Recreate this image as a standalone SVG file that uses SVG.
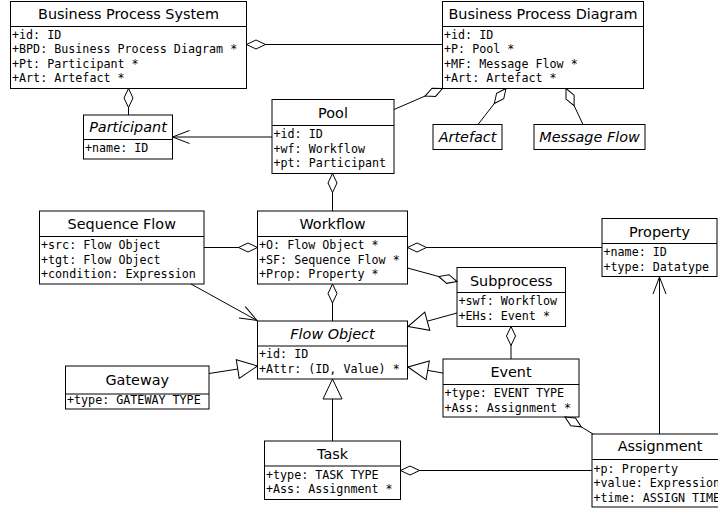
<svg xmlns="http://www.w3.org/2000/svg" width="718" height="510" viewBox="0 0 718 510">
<style>
.box{fill:#fff;stroke:#000;stroke-width:1}
.sep{stroke:#000;stroke-width:1}
.t{font-family:"DejaVu Sans","Liberation Sans",sans-serif;font-size:14.4px;text-anchor:middle;fill:#000}
.ti{font-family:"DejaVu Sans","Liberation Sans",sans-serif;font-size:14.4px;text-anchor:middle;font-style:italic;fill:#000}
.a{font-family:"DejaVu Sans Mono","Liberation Mono",monospace;font-size:11.7px;fill:#000}
.c{fill:none;stroke:#000;stroke-width:1}
.agg{marker-start:url(#dia)}
.gen{marker-end:url(#tri)}
.nav{marker-end:url(#arr)}
</style>
<defs>
<marker id="dia" viewBox="-1 -6 22 12" refX="0" refY="0" markerWidth="22" markerHeight="12" markerUnits="userSpaceOnUse" orient="auto"><path d="M0,0 L9.5,-4.5 L19,0 L9.5,4.5 Z" fill="#fff" stroke="#000" stroke-width="1"/></marker>
<marker id="tri" viewBox="-22 -11 23 22" refX="0" refY="0" markerWidth="23" markerHeight="22" markerUnits="userSpaceOnUse" orient="auto"><path d="M0,0 L-20,-9.5 L-20,9.5 Z" fill="#fff" stroke="#000" stroke-width="1"/></marker>
<marker id="arr" viewBox="-19 -8 20 16" refX="0" refY="0" markerWidth="20" markerHeight="16" markerUnits="userSpaceOnUse" orient="auto"><path d="M-17,-6.5 L0,0 L-17,6.5" fill="none" stroke="#000" stroke-width="1"/></marker>
</defs>
<rect width="718" height="510" fill="#fff"/>

<g id="bps">
<rect class="box" x="10.5" y="1.5" width="236" height="87"/>
<line class="sep" x1="10.5" y1="26.5" x2="246.5" y2="26.5"/>
<text class="t" x="128.5" y="19">Business Process System</text>
<text class="a" x="12" y="38.5">+id: ID</text>
<text class="a" x="12" y="53">+BPD: Business Process Diagram *</text>
<text class="a" x="12" y="67.5">+Pt: Participant *</text>
<text class="a" x="12" y="82">+Art: Artefact *</text>
</g>

<g id="bpd">
<rect class="box" x="442.5" y="1.5" width="201" height="87"/>
<line class="sep" x1="442.5" y1="26.5" x2="643.5" y2="26.5"/>
<text class="t" x="543" y="19">Business Process Diagram</text>
<text class="a" x="444" y="38.5">+id: ID</text>
<text class="a" x="444" y="53">+P: Pool *</text>
<text class="a" x="444" y="67.5">+MF: Message Flow *</text>
<text class="a" x="444" y="82">+Art: Artefact *</text>
</g>

<g id="participant">
<rect class="box" x="83.5" y="115" width="89" height="44"/>
<line class="sep" x1="83.5" y1="139.5" x2="172.5" y2="139.5"/>
<text class="ti" x="128" y="132">Participant</text>
<text class="a" x="85" y="151.5">+name: ID</text>
</g>

<g id="artefact">
<rect class="box" x="433" y="124.5" width="69" height="25"/>
<text class="ti" x="467.5" y="142">Artefact</text>
</g>

<g id="messageflow">
<rect class="box" x="534" y="124.5" width="111" height="25"/>
<text class="ti" x="589.5" y="142">Message Flow</text>
</g>

<g id="pool">
<rect class="box" x="272" y="99.5" width="122" height="74"/>
<line class="sep" x1="272" y1="125.5" x2="394" y2="125.5"/>
<text class="t" x="333" y="117.5">Pool</text>
<text class="a" x="273.5" y="138">+id: ID</text>
<text class="a" x="273.5" y="152.5">+wf: Workflow</text>
<text class="a" x="273.5" y="167">+pt: Participant</text>
</g>

<g id="sequenceflow">
<rect class="box" x="39.5" y="211" width="164.5" height="73"/>
<line class="sep" x1="39.5" y1="236.5" x2="204" y2="236.5"/>
<text class="t" x="121.75" y="229">Sequence Flow</text>
<text class="a" x="41" y="249">+src: Flow Object</text>
<text class="a" x="41" y="263.5">+tgt: Flow Object</text>
<text class="a" x="41" y="278">+condition: Expression</text>
</g>

<g id="workflow">
<rect class="box" x="257.5" y="211" width="150" height="73"/>
<line class="sep" x1="257.5" y1="236.5" x2="407.5" y2="236.5"/>
<text class="t" x="332.5" y="229">Workflow</text>
<text class="a" x="259" y="249">+O: Flow Object *</text>
<text class="a" x="259" y="263.5">+SF: Sequence Flow *</text>
<text class="a" x="259" y="278">+Prop: Property *</text>
</g>

<g id="property">
<rect class="box" x="602" y="218.5" width="115" height="58"/>
<line class="sep" x1="602" y1="243.5" x2="717" y2="243.5"/>
<text class="t" x="659.5" y="236.5">Property</text>
<text class="a" x="603.5" y="256">+name: ID</text>
<text class="a" x="603.5" y="270.5">+type: Datatype</text>
</g>

<g id="subprocess">
<rect class="box" x="457" y="267.5" width="108.5" height="59"/>
<line class="sep" x1="457" y1="292.5" x2="565.5" y2="292.5"/>
<text class="t" x="511.25" y="285.5">Subprocess</text>
<text class="a" x="458.5" y="305">+swf: Workflow</text>
<text class="a" x="458.5" y="319.5">+EHs: Event *</text>
</g>

<g id="flowobject">
<rect class="box" x="257.5" y="321" width="150" height="58"/>
<line class="sep" x1="257.5" y1="346" x2="407.5" y2="346"/>
<text class="ti" x="332.5" y="339">Flow Object</text>
<text class="a" x="259" y="358">+id: ID</text>
<text class="a" x="259" y="372.5">+Attr: (ID, Value) *</text>
</g>

<g id="gateway">
<rect class="box" x="65.5" y="366" width="143.5" height="43"/>
<line class="sep" x1="65.5" y1="394" x2="209" y2="394"/>
<text class="t" x="137.25" y="384.5">Gateway</text>
<text class="a" x="67" y="404">+type: GATEWAY TYPE</text>
</g>

<g id="event">
<rect class="box" x="443" y="359" width="136" height="58"/>
<line class="sep" x1="443" y1="384.5" x2="579" y2="384.5"/>
<text class="t" x="511" y="377">Event</text>
<text class="a" x="444.5" y="397">+type: EVENT TYPE</text>
<text class="a" x="444.5" y="411.5">+Ass: Assignment *</text>
</g>

<g id="task">
<rect class="box" x="264.5" y="441" width="136" height="58.5"/>
<line class="sep" x1="264.5" y1="466" x2="400.5" y2="466"/>
<text class="t" x="332.5" y="459">Task</text>
<text class="a" x="266" y="478.5">+type: TASK TYPE</text>
<text class="a" x="266" y="493">+Ass: Assignment *</text>
</g>

<g id="assignment">
<rect class="box" x="592" y="434" width="136" height="73"/>
<line class="sep" x1="592" y1="459.5" x2="728" y2="459.5"/>
<text class="t" x="660" y="451">Assignment</text>
<text class="a" x="593.5" y="472.5">+p: Property</text>
<text class="a" x="593.5" y="487">+value: Expression</text>
<text class="a" x="593.5" y="501.5">+time: ASSIGN TIME</text>
</g>

<g id="connectors">
<path class="c agg" d="M246.5,44.5 L442.5,44.5"/>
<path class="c agg" d="M128.5,88.5 L128.5,115"/>
<path class="c agg" d="M442.5,88.5 L394,109.5"/>
<path class="c agg" d="M506,88.5 L478,124.5"/>
<path class="c agg" d="M566,88.5 L583,124.5"/>
<path class="c nav" d="M272,137 L172.5,137"/>
<path class="c agg" d="M332.5,173.5 L332.5,211"/>
<path class="c agg" d="M257.5,247.5 L204,247.5"/>
<path class="c agg" d="M407.5,247.5 L602,247.5"/>
<path class="c agg" d="M457,281.5 L407.5,268"/>
<path class="c nav" d="M191,284 L257,320.5"/>
<path class="c agg" d="M332.5,284 L332.5,321"/>
<path class="c gen" d="M209,373.5 L257.5,366"/>
<path class="c gen" d="M457,313 L408,326.5"/>
<path class="c gen" d="M443,373 L408,367"/>
<path class="c agg" d="M511,326.5 L511,359"/>
<path class="c gen" d="M332.5,441 L332.5,379"/>
<path class="c agg" d="M400.5,470.5 L592,470.5"/>
<path class="c agg" d="M565,417 L593,434"/>
<path class="c nav" d="M659.5,434 L659.5,277"/>
</g>
</svg>
